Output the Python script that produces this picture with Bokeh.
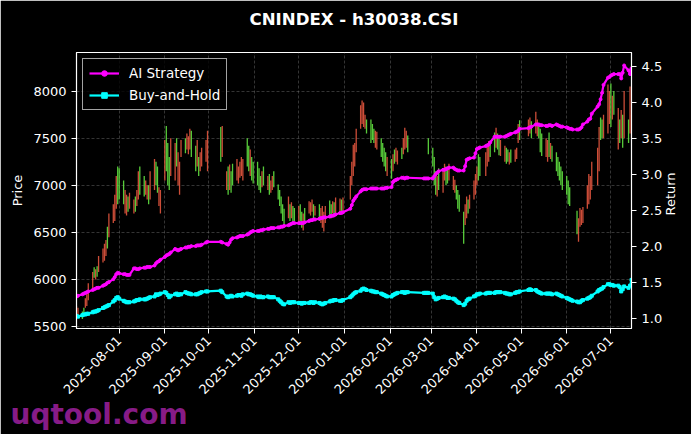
import numpy as np
import pandas as pd
from bokeh.plotting import figure
from bokeh.models import (Range1d, LinearAxis, FixedTicker, DatetimeTickFormatter,
                          NumeralTickFormatter, Legend, LegendItem, Label, ColumnDataSource)
from bokeh.embed import file_html
from bokeh.resources import INLINE

# Chinese exchange holidays (weekdays without trading)
holidays = ["2025-10-01", "2025-10-02", "2025-10-03", "2025-10-06", "2025-10-07", "2025-10-08",
            "2026-01-01", "2026-01-02", "2026-02-16", "2026-02-17", "2026-02-18", "2026-02-19",
            "2026-02-20", "2026-02-23", "2026-04-06", "2026-05-01", "2026-05-04", "2026-05-05",
            "2026-06-19"]
month_ticks = ["2025-08-01", "2025-09-01", "2025-10-01", "2025-11-01", "2025-12-01", "2026-01-01",
               "2026-02-01", "2026-03-01", "2026-04-01", "2026-05-01", "2026-06-01", "2026-07-01"]
price_ticks = [5500, 6000, 6500, 7000, 7500, 8000]
return_ticks = [1.0, 1.5, 2.0, 2.5, 3.0, 3.5, 4.0, 4.5]

# daily price bars (low / high), one row per month; None = no bar that day
lows = [
    5620, 5600, 5580, 5620, 5700, 5720, 5780, 5900, 6020, 6000, 6030, 6080, 6180, 6200, 6250, 6330, 6450, 6600, 6620, 6750, 6800,
    6850, 6800, 6700, 6680, 6720, 6750, 6700, 6720, 6780, 6850, 6900, 6880, 6900, 6850, 6800, 6850, 6950, 7000, 6920, 6780, 6700,
    7050, 7150, 7000, 6950, 7100, 7050, 7200, 7000, 6900, 7300, 7340, 7380, 7330, 7380, 7300, 7150, 7200, 7100, 7150, 7200, 7250, 7150,
    7250, 7300, 6950, 6900, 6950, 6920, 7000, 7050, 7020, 7080, 7100, 7050, 7200, 7150, 7100, 7050, 7020,
    7000, 6950, 6920, 6980, 7000, 6950, 6900, 6920, 6950, 6980, 6850, 6780, 6700, 6620, 6580, 6650, 6620, 6650, 6600, 6620,
    6600, 6620, 6550, 6520, 6600, 6700, 6680, 6720, 6650, 6680, 6620, 6600, 6550, 6510, 6600, 6680, 6650, 6700, 6660, 6700, 6720, 6700, 6730,
    6850, 7000, 7100, 7200, 7350, 7600, 7650, 7620, 7600, 7550, 7450, 7480, 7450, 7400, 7380, 7300, 7250, 7200, 7150, 7100,
    7070, 7150, 7230, 7250, 7220, 7280, 7330, 7380, 7400, 7350, None, None, None, 7330,
    7200, 7000, 6900, 6880, 6950, 6920, 7050, 7000, 7020, 7050, 6950, 6920, 6850, 6750, 6720, 6380, 6580, 6650, 6700, 6750, 6850, 6900,
    7000, 7050, 7100, 7100, 7200, 7250, 7300, 7350, 7400, 7380, 7320, 7310, 7250, 7230, 7250, 7220, 7240, 7250, 7280, 7450, 7480,
    7520, 7550, 7500, 7550, 7520, 7500, 7350, 7310, 7300, 7250, 7300, 7280, 7250, 7150, 7100, 7050, 7000, 6950,
    6900, 6800, 6780, None, None, 6480, 6400, 6560, 6580, 6600, 6750, 6800, 6850, 6950, 7000, 7150, 7480, 7500, 7500, 7550, 7650,
    7620, 7700, 7750, 7380, 7450, 7500, 7400, 7500, 7450, 7550, 7500,
]
highs = [
    5720, 5700, 5660, 5700, 5800, 5850, 5960, 6080, 6130, 6110, 6140, 6250, 6330, 6380, 6420, 6560, 6700, 6800, 6900, 7100, 7200,
    7180, 7050, 6950, 6900, 6880, 6920, 6850, 6880, 6950, 7150, 7200, 7100, 7050, 7000, 7000, 7150, 7280, 7250, 7200, 6980, 6950,
    7480, 7630, 7450, 7300, 7500, 7450, 7500, 7350, 7250, 7480, 7500, 7550, 7520, 7600, 7580, 7420, 7480, 7300, 7350, 7400, 7480, 7580,
    7620, 7630, 7150, 7200, 7220, 7150, 7230, 7280, 7200, 7250, 7300, 7280, 7500, 7420, 7380, 7300, 7250,
    7250, 7180, 7100, 7150, 7200, 7100, 7120, 7050, 7100, 7150, 7010, 6950, 6880, 6800, 6750, 6880, 6800, 6820, 6780, 6760,
    6780, 6800, 6720, 6700, 6760, 6830, 6820, 6850, 6800, 6780, 6800, 6760, 6780, 6720, 6780, 6840, 6800, 6830, 6820, 6870, 6860, 6850, 6870,
    7100, 7250, 7430, 7450, 7600, 7850, 7900, 7880, 7750, 7700, 7700, 7650, 7600, 7580, 7570, 7500, 7450, 7400, 7350, 7300,
    7280, 7330, 7380, 7400, 7370, 7400, 7500, 7610, 7580, 7530, None, None, None, 7500,
    7400, 7300, 7150, 7100, 7180, 7150, 7230, 7200, 7180, 7230, 7100, 7060, 7000, 6950, 6900, 6720, 6800, 6880, 6850, 6900, 7050, 7120,
    7200, 7330, 7300, 7350, 7420, 7470, 7450, 7560, 7610, 7550, 7500, 7480, 7420, 7400, 7380, 7350, 7380, 7380, 7400, 7650, 7690,
    7700, 7720, 7680, 7780, 7700, 7650, 7600, 7550, 7500, 7480, 7560, 7450, 7420, 7350, 7300, 7250, 7200, 7150,
    7100, 7050, 6980, None, None, 6730, 6650, 6760, 6740, 6770, 7000, 7120, 7100, 7250, 7400, 7620, 7720, 7700, 7750, 8070, 8000,
    8080, 7950, 8000, 7820, 7700, 7800, 7750, 8000, 7700, 8050, 7750,
]
# r = red bar, g = green bar, . = none
bar_dir = ("rrggrrrrgrgrrrrgrrrrg" "ggrrgrrgrrggrrgrrggrr" "rgggrrgrrrgrrrggrgrrrr" "grrgrggrrrrrggrgg"
           "gggrgrgrrggggggrgrgg" "rggrgrrrgrgrrrrggrgrrgr" "rrrrrrrrrggggrrggggr" "grgrrgrrrg...g"
           "gggrgrrggrrrggggrrgrrr" "rggrrrggrggrrggrgrrrg" "rrgrrgggrrgrgggggg" "ggg..grrrrrrrrrrggrrr"
           "grgrgrgrgrr")

ai_strategy = [
    1.31, 1.32, 1.34, 1.35, 1.36, 1.37, 1.38, 1.40, 1.41, 1.42, 1.43, 1.43, 1.46, 1.47, 1.48, 1.50, 1.51, 1.55, 1.58, 1.62, 1.64,
    1.63, 1.62, 1.62, 1.61, 1.61, 1.61, 1.70, 1.70, 1.69, 1.69, 1.70, 1.71, 1.71, 1.72, 1.72, 1.72, 1.74, 1.77, 1.79, 1.80, 1.82,
    1.86, 1.88, 1.89, 1.90, 1.92, 1.97, 1.96, 1.95, 1.96, 1.97, 1.99, 1.99, 2.00, 2.00, 2.01, 2.01, 2.02, 2.02, 2.02, 2.03, 2.06, 2.07,
    2.07, 2.06, 2.04, 2.03, 2.06, 2.10, 2.12, 2.13, 2.14, 2.15, 2.15, 2.15, 2.17, 2.18, 2.20, 2.21, 2.22,
    2.22, 2.22, 2.23, 2.23, 2.24, 2.25, 2.25, 2.26, 2.26, 2.26, 2.27, 2.27, 2.28, 2.28, 2.29, 2.30, 2.31, 2.32, 2.33, 2.33,
    2.33, 2.33, 2.33, 2.33, 2.34, 2.36, 2.37, 2.37, 2.38, 2.38, 2.39, 2.40, 2.40, 2.41, 2.41, 2.42, 2.43, 2.43, 2.44, 2.45, 2.47, 2.47, 2.48,
    2.53, 2.58, 2.64, 2.67, 2.70, 2.77, 2.79, 2.80, 2.80, 2.80, 2.81, 2.81, 2.81, 2.81, 2.81, 2.81, 2.81, 2.81, 2.82, 2.82,
    2.83, 2.90, 2.92, 2.93, 2.94, 2.96, 2.96, 2.95, 2.96, 2.96, 2.95, 2.95, 2.95, 2.95,
    2.95, 2.98, 3.01, 3.03, 3.05, 3.07, 3.07, 3.08, 3.09, 3.10, 3.10, 3.08, 3.07, 3.06, 3.06, 3.06, 3.12, 3.21, 3.22, 3.23, 3.24, 3.30,
    3.36, 3.37, 3.38, 3.40, 3.41, 3.42, 3.45, 3.53, 3.53, 3.53, 3.53, 3.53, 3.53, 3.54, 3.55, 3.56, 3.57, 3.59, 3.60, 3.61, 3.64,
    3.65, 3.66, 3.67, 3.70, 3.70, 3.70, 3.69, 3.69, 3.68, 3.68, 3.69, 3.69, 3.68, 3.70, 3.69, 3.68, 3.67, 3.67,
    3.66, 3.65, 3.64, 3.64, 3.63, 3.63, 3.63, 3.64, 3.66, 3.70, 3.74, 3.77, 3.78, 3.85, 3.95, 3.98, 4.05, 4.14, 4.25, 4.35, 4.36,
    4.38, 4.39, 4.40, 4.40, 4.40, 4.34, 4.42, 4.52, 4.45, 4.40, 4.48,
]
buy_hold = [
    1.04, 1.03, 1.05, 1.06, 1.06, 1.07, 1.07, 1.09, 1.10, 1.10, 1.11, 1.12, 1.15, 1.16, 1.17, 1.18, 1.19, 1.24, 1.26, 1.29, 1.30,
    1.28, 1.25, 1.24, 1.23, 1.23, 1.23, 1.24, 1.25, 1.26, 1.26, 1.27, 1.27, 1.27, 1.28, 1.29, 1.30, 1.31, 1.34, 1.33, 1.34, 1.35,
    1.37, 1.36, 1.33, 1.30, 1.32, 1.34, 1.35, 1.33, 1.34, 1.34, 1.37, 1.36, 1.35, 1.35, 1.34, 1.34, 1.34, 1.35, 1.36, 1.37, 1.38, 1.38,
    1.39, 1.37, 1.31, 1.30, 1.31, 1.32, 1.31, 1.32, 1.33, 1.33, 1.32, 1.34, 1.35, 1.34, 1.34, 1.33, 1.32,
    1.31, 1.30, 1.31, 1.30, 1.30, 1.31, 1.30, 1.30, 1.30, 1.30, 1.27, 1.25, 1.23, 1.21, 1.20, 1.23, 1.22, 1.23, 1.23, 1.23,
    1.22, 1.22, 1.21, 1.22, 1.22, 1.22, 1.23, 1.23, 1.22, 1.23, 1.22, 1.21, 1.20, 1.21, 1.22, 1.24, 1.25, 1.25, 1.26, 1.26, 1.25, 1.25, 1.26,
    1.30, 1.32, 1.34, 1.36, 1.37, 1.39, 1.41, 1.42, 1.41, 1.40, 1.39, 1.38, 1.38, 1.37, 1.37, 1.35, 1.34, 1.33, 1.32, 1.31,
    1.31, 1.33, 1.34, 1.35, 1.36, 1.37, 1.37, 1.36, 1.37, 1.37, 1.36, 1.36, 1.36, 1.36,
    1.35, 1.30, 1.27, 1.28, 1.29, 1.30, 1.31, 1.30, 1.29, 1.29, 1.28, 1.27, 1.25, 1.23, 1.22, 1.19, 1.21, 1.25, 1.27, 1.28, 1.31, 1.32,
    1.34, 1.34, 1.35, 1.35, 1.36, 1.36, 1.36, 1.36, 1.37, 1.37, 1.37, 1.37, 1.36, 1.35, 1.35, 1.34, 1.34, 1.36, 1.37, 1.37, 1.38,
    1.40, 1.41, 1.40, 1.40, 1.38, 1.37, 1.36, 1.35, 1.35, 1.35, 1.35, 1.35, 1.34, 1.35, 1.34, 1.33, 1.32, 1.31,
    1.29, 1.28, 1.27, 1.26, 1.25, 1.24, 1.23, 1.23, 1.25, 1.26, 1.28, 1.29, 1.30, 1.32, 1.38, 1.40, 1.41, 1.42, 1.44, 1.48, 1.48,
    1.47, 1.47, 1.46, 1.46, 1.44, 1.38, 1.41, 1.45, 1.43, 1.46, 1.54,
]

dates = pd.bdate_range("2025-07-03", "2026-07-15", freq="C", holidays=holidays)
assert len(dates) == len(lows) == len(highs) == len(bar_dir) == len(ai_strategy) == len(buy_hold)

FONT = "DejaVu Sans"
bar_colors = {"r": "#f05a42", "g": "#66ee44", ".": "black"}

p = figure(width=691, height=434, x_axis_type="datetime", output_backend="svg",
           toolbar_location=None, min_border_left=76, min_border_right=60,
           min_border_top=52, min_border_bottom=99,
           x_range=Range1d(dates[0], dates[-1]), y_range=Range1d(5480, 8410))
p.background_fill_color = "black"
p.border_fill_color = "black"
p.outline_line_color = "white"
p.outline_line_width = 1.2
p.extra_y_ranges = {"ret": Range1d(0.865, 4.70)}

# second (empty) line lifts the title to the top of the border
p.title.text = "CNINDEX - h30038.CSI\n "
p.title.align = "center"
p.title.text_color = "white"
p.title.text_font = FONT
p.title.text_font_style = "bold"
p.title.text_font_size = "16.6px"
p.title.standoff = 10

bars = ColumnDataSource(data=dict(
    x=dates,
    low=np.array(lows, dtype=float),
    high=np.array(highs, dtype=float),
    color=[bar_colors[c] for c in bar_dir],
))
p.segment(x0="x", y0="low", x1="x", y1="high", color="color", line_width=1.3,
          line_alpha=0.85, source=bars)

ai_line = p.line(dates, ai_strategy, y_range_name="ret", color="#ff00ff", line_width=2.2)
ai_dots = p.scatter(dates, ai_strategy, y_range_name="ret", marker="circle", size=3,
                    color="#ff00ff")
bh_line = p.line(dates, buy_hold, y_range_name="ret", color="#00ffff", line_width=2.2)
bh_dots = p.scatter(dates, buy_hold, y_range_name="ret", marker="square", size=3,
                    color="#00ffff")

right = LinearAxis(y_range_name="ret")
p.add_layout(right, "right")

p.xaxis.ticker = FixedTicker(ticks=list(pd.to_datetime(month_ticks).astype("int64") // 10**6))
p.xaxis.formatter = DatetimeTickFormatter(days="%Y-%m-%d", months="%Y-%m-%d", years="%Y-%m-%d")
p.xaxis.major_label_orientation = np.pi / 4
p.yaxis[0].ticker = FixedTicker(ticks=price_ticks)
p.yaxis[0].axis_label = "Price"
right.ticker = FixedTicker(ticks=return_ticks)
right.formatter = NumeralTickFormatter(format="0.0")

for ax in p.xaxis + p.yaxis:
    ax.axis_line_color = "white"
    ax.major_tick_line_color = "white"
    ax.major_tick_out = 5
    ax.major_tick_in = 0
    ax.minor_tick_line_color = None
    ax.major_label_text_color = "white"
    ax.major_label_text_font = FONT
    ax.major_label_text_font_size = "13px"
    ax.axis_label_text_color = "white"
    ax.axis_label_text_font = FONT
    ax.axis_label_text_font_size = "13px"
    ax.axis_label_text_font_style = "normal"

for grid in (p.xgrid, p.ygrid):
    grid.grid_line_color = "#8a8a8a"
    grid.grid_line_alpha = 0.55
    grid.grid_line_dash = "3 2"
    grid.grid_line_width = 0.7

legend = Legend(items=[LegendItem(label="AI Strategy", renderers=[ai_line, ai_dots]),
                       LegendItem(label="Buy-and-Hold", renderers=[bh_line, bh_dots])],
                location="top_left", margin=6, padding=6, spacing=6,
                glyph_width=30, glyph_height=14, label_height=14, label_standoff=10,
                background_fill_color="black", background_fill_alpha=0.8,
                border_line_color="#cccccc", border_line_alpha=0.8,
                label_text_color="white", label_text_font=FONT,
                label_text_font_size="13.5px")
p.add_layout(legend)

# right axis name, reading bottom to top like the left one
ret_label = Label(x=5, y=134.5, x_units="screen", y_units="screen", text="Return",
                  angle=np.pi / 2, text_align="center", text_baseline="middle",
                  text_font=FONT, text_font_size="13px", text_color="white")
p.add_layout(ret_label, "right")

mark = Label(x=-66, y=20, x_units="screen", y_units="screen", text="uqtool.com",
             text_align="left", text_baseline="alphabetic", text_font=FONT,
             text_font_style="bold", text_font_size="28px", text_color="#a020a0",
             text_alpha=0.85)
p.add_layout(mark, "below")

open("out.html", "w").write(file_html(p, INLINE))
